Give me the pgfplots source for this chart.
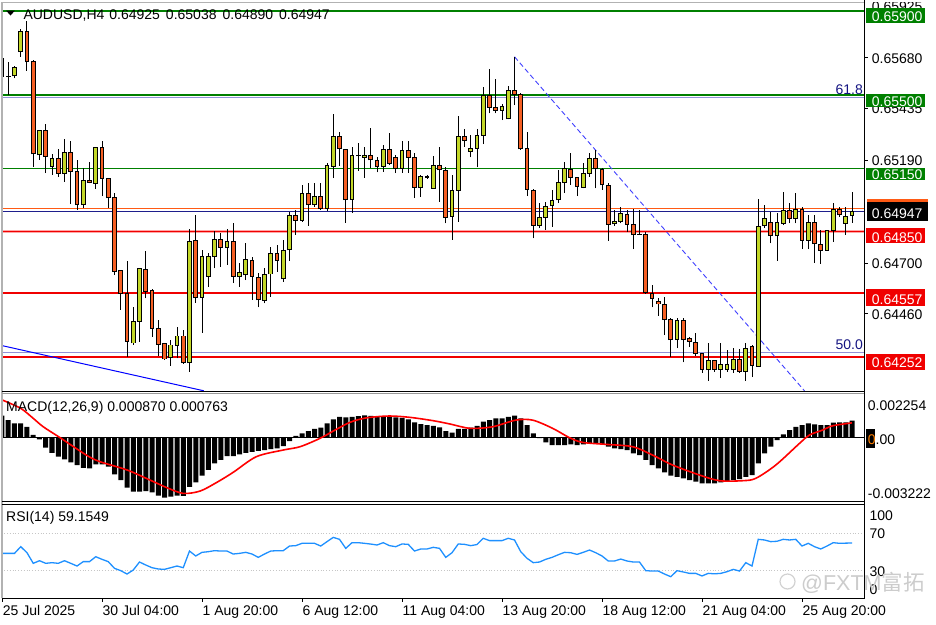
\documentclass[border=0pt]{standalone}
\usepackage{pgfplots}
\pgfplotsset{compat=1.18}
\usepackage{pgfplotstable}
\usepackage{fontspec}
\setmainfont{Liberation Sans}
\newfontfamily\cjk{Noto Sans CJK SC}
\definecolor{bull}{RGB}{195,215,40}
\definecolor{bear}{RGB}{245,95,35}
\definecolor{lvlgreen}{RGB}{0,128,0}
\definecolor{lvlred}{RGB}{240,0,0}
\definecolor{fib}{RGB}{145,145,215}
\definecolor{navyl}{RGB}{30,30,140}
\definecolor{orl}{RGB}{255,90,20}
\definecolor{rsiblue}{RGB}{30,144,255}
\definecolor{fibtxt}{RGB}{20,20,130}
\newcommand\lbl{\fontsize{14}{16}\selectfont}

\pgfplotstableread{
i o h l c
0 0.65674 0.65679 0.65555 0.65587
1 0.65591 0.65658 0.65500 0.65590
2 0.65590 0.65638 0.65579 0.65631
3 0.65706 0.65812 0.65682 0.65801
4 0.65801 0.65853 0.65615 0.65658
5 0.65658 0.65666 0.65158 0.65218
6 0.65214 0.65335 0.65190 0.65333
7 0.65333 0.65361 0.65127 0.65206
8 0.65158 0.65218 0.65119 0.65198
9 0.65199 0.65242 0.65110 0.65127
10 0.65127 0.65290 0.65087 0.65228
11 0.65228 0.65280 0.64980 0.65134
12 0.65134 0.65190 0.64952 0.64976
13 0.64976 0.65152 0.64961 0.65095
14 0.65095 0.65182 0.65079 0.65082
15 0.65079 0.65253 0.65052 0.65249
16 0.65249 0.65280 0.65018 0.65103
17 0.65103 0.65104 0.64961 0.65009
18 0.65014 0.65033 0.64642 0.64658
19 0.64663 0.64666 0.64476 0.64555
20 0.64555 0.64709 0.64253 0.64325
21 0.64317 0.64491 0.64309 0.64420
22 0.64420 0.64675 0.64325 0.64674
23 0.64669 0.64757 0.64531 0.64563
24 0.64571 0.64576 0.64348 0.64388
25 0.64388 0.64428 0.64256 0.64312
26 0.64314 0.64315 0.64237 0.64241
27 0.64248 0.64333 0.64209 0.64309
28 0.64305 0.64393 0.64245 0.64352
29 0.64352 0.64380 0.64218 0.64222
30 0.64222 0.64860 0.64182 0.64804
31 0.64809 0.64928 0.64510 0.64536
32 0.64536 0.64761 0.64367 0.64729
33 0.64634 0.64747 0.64586 0.64729
34 0.64729 0.64853 0.64674 0.64814
35 0.64814 0.64844 0.64682 0.64774
36 0.64774 0.64860 0.64690 0.64804
37 0.64804 0.64888 0.64603 0.64634
38 0.64634 0.64698 0.64586 0.64656
39 0.64642 0.64793 0.64618 0.64718
40 0.64714 0.64729 0.64523 0.64634
41 0.64631 0.64650 0.64488 0.64523
42 0.64520 0.64674 0.64507 0.64646
43 0.64646 0.64777 0.64539 0.64746
44 0.64746 0.64785 0.64658 0.64710
45 0.64623 0.64809 0.64610 0.64761
46 0.64761 0.64944 0.64710 0.64928
47 0.64928 0.64952 0.64833 0.64901
48 0.64901 0.65071 0.64895 0.65031
49 0.65031 0.65080 0.64876 0.64976
50 0.64976 0.65082 0.64966 0.65018
51 0.65015 0.65080 0.64952 0.64960
52 0.64960 0.65176 0.64948 0.65163
53 0.65158 0.65408 0.65103 0.65304
54 0.65304 0.65322 0.65163 0.65242
55 0.65242 0.65243 0.64890 0.65000
56 0.65003 0.65252 0.64939 0.65214
57 0.65209 0.65270 0.65138 0.65210
58 0.65203 0.65253 0.65106 0.65214
59 0.65214 0.65344 0.65153 0.65190
60 0.65190 0.65206 0.65131 0.65158
61 0.65158 0.65261 0.65134 0.65242
62 0.65242 0.65317 0.65166 0.65174
63 0.65203 0.65214 0.65127 0.65150
64 0.65150 0.65280 0.65129 0.65234
65 0.65234 0.65282 0.65129 0.65203
66 0.65201 0.65222 0.65008 0.65060
67 0.65060 0.65119 0.65015 0.65114
68 0.65110 0.65119 0.65100 0.65108
69 0.65055 0.65209 0.65055 0.65166
70 0.65166 0.65250 0.64991 0.65142
71 0.65142 0.65155 0.64888 0.64917
72 0.64920 0.65119 0.64809 0.65047
73 0.65044 0.65400 0.64896 0.65304
74 0.65304 0.65336 0.65253 0.65282
75 0.65231 0.65309 0.65203 0.65247
76 0.65246 0.65336 0.65155 0.65308
77 0.65308 0.65539 0.65266 0.65496
78 0.65496 0.65622 0.65412 0.65441
79 0.65441 0.65574 0.65412 0.65427
80 0.65425 0.65457 0.65380 0.65446
81 0.65385 0.65542 0.65384 0.65523
82 0.65523 0.65682 0.65452 0.65503
83 0.65503 0.65511 0.65238 0.65242
84 0.65246 0.65325 0.65018 0.65050
85 0.65047 0.65050 0.64817 0.64876
86 0.64876 0.64984 0.64865 0.64917
87 0.64917 0.64991 0.64857 0.64971
88 0.64971 0.65047 0.64872 0.64999
89 0.64999 0.65142 0.64984 0.65084
90 0.65084 0.65182 0.65034 0.65150
91 0.65147 0.65222 0.65071 0.65108
92 0.65108 0.65109 0.65018 0.65063
93 0.65060 0.65174 0.65055 0.65127
94 0.65127 0.65222 0.65110 0.65198
95 0.65198 0.65238 0.65055 0.65147
96 0.65147 0.65150 0.65047 0.65071
97 0.65071 0.65079 0.64806 0.64884
98 0.64885 0.64952 0.64877 0.64896
99 0.64896 0.64967 0.64888 0.64936
100 0.64931 0.64952 0.64848 0.64884
101 0.64884 0.64955 0.64765 0.64833
102 0.64836 0.64952 0.64833 0.64835
103 0.64836 0.64848 0.64552 0.64558
104 0.64555 0.64595 0.64488 0.64528
105 0.64515 0.64531 0.64447 0.64503
106 0.64503 0.64539 0.64356 0.64428
107 0.64431 0.64436 0.64253 0.64333
108 0.64333 0.64436 0.64293 0.64428
109 0.64428 0.64436 0.64225 0.64333
110 0.64341 0.64348 0.64301 0.64325
111 0.64322 0.64365 0.64256 0.64269
112 0.64269 0.64270 0.64177 0.64193
113 0.64190 0.64317 0.64137 0.64237
114 0.64237 0.64238 0.64182 0.64193
115 0.64193 0.64317 0.64150 0.64218
116 0.64190 0.64285 0.64182 0.64218
117 0.64190 0.64293 0.64177 0.64241
118 0.64241 0.64288 0.64174 0.64182
119 0.64182 0.64317 0.64139 0.64293
120 0.64301 0.64309 0.64155 0.64209
121 0.64206 0.65003 0.64205 0.64876
122 0.64876 0.64976 0.64865 0.64912
123 0.64893 0.64944 0.64793 0.64829
124 0.64828 0.64939 0.64709 0.64893
125 0.64888 0.65039 0.64880 0.64948
126 0.64948 0.64987 0.64888 0.64912
127 0.64912 0.65031 0.64888 0.64955
128 0.64955 0.64967 0.64765 0.64806
129 0.64806 0.64928 0.64765 0.64893
130 0.64893 0.64928 0.64701 0.64790
131 0.64790 0.64857 0.64695 0.64758
132 0.64758 0.64857 0.64758 0.64853
133 0.64853 0.64984 0.64801 0.64955
134 0.64955 0.64967 0.64920 0.64928
135 0.64888 0.64967 0.64833 0.64923
136 0.64925 0.65038 0.64890 0.64947
}\candles

\pgfplotstableread{
i v
0 0.00113
1 0.00090
2 0.00073
3 0.00073
4 0.00056
5 0.00014
6 -0.00009
7 -0.00051
8 -0.00077
9 -0.00097
10 -0.00111
11 -0.00126
12 -0.00140
13 -0.00154
14 -0.00157
15 -0.00137
16 -0.00137
17 -0.00148
18 -0.00188
19 -0.00217
20 -0.00256
21 -0.00276
22 -0.00276
23 -0.00273
24 -0.00280
25 -0.00297
26 -0.00307
27 -0.00302
28 -0.00297
29 -0.00298
30 -0.00251
31 -0.00229
32 -0.00194
33 -0.00165
34 -0.00131
35 -0.00114
36 -0.00094
37 -0.00094
38 -0.00085
39 -0.00077
40 -0.00072
41 -0.00068
42 -0.00063
43 -0.00058
44 -0.00055
45 -0.00043
46 -0.00017
47 0.00010
48 0.00022
49 0.00034
50 0.00045
51 0.00051
52 0.00073
53 0.00094
54 0.00107
55 0.00104
56 0.00107
57 0.00111
58 0.00114
59 0.00112
60 0.00111
61 0.00111
62 0.00109
63 0.00104
64 0.00102
65 0.00094
66 0.00078
67 0.00070
68 0.00065
69 0.00060
70 0.00053
71 0.00034
72 0.00026
73 0.00045
74 0.00045
75 0.00051
76 0.00060
77 0.00082
78 0.00090
79 0.00099
80 0.00099
81 0.00107
82 0.00113
83 0.00099
84 0.00065
85 0.00022
86 -0.00002
87 -0.00024
88 -0.00038
89 -0.00038
90 -0.00038
91 -0.00034
92 -0.00038
93 -0.00034
94 -0.00029
95 -0.00029
96 -0.00034
97 -0.00046
98 -0.00055
99 -0.00058
100 -0.00063
101 -0.00080
102 -0.00089
103 -0.00114
104 -0.00140
105 -0.00157
106 -0.00178
107 -0.00194
108 -0.00200
109 -0.00208
110 -0.00217
111 -0.00225
112 -0.00234
113 -0.00234
114 -0.00234
115 -0.00229
116 -0.00225
117 -0.00217
118 -0.00212
119 -0.00200
120 -0.00191
121 -0.00131
122 -0.00080
123 -0.00046
124 -0.00012
125 0.00017
126 0.00039
127 0.00056
128 0.00065
129 0.00073
130 0.00068
131 0.00065
132 0.00065
133 0.00077
134 0.00078
135 0.00078
136 0.00087
}\macd

\pgfplotstableread{
i v
-0.1 0.00195
3 0.00150
5 0.00099
6.6 0.00056
9.3 0.00000
13.5 -0.00089
15.7 -0.00123
20 -0.00165
23.7 -0.00217
26.4 -0.00256
29 -0.00285
31.7 -0.00273
34.4 -0.00228
37 -0.00177
40.7 -0.00097
45 -0.00063
47.7 -0.00046
50.9 -0.00003
53 0.00034
55.7 0.00079
58.4 0.00102
62 0.00111
65.3 0.00104
69 0.00087
71.7 0.00070
74.9 0.00048
78.5 0.00056
82.2 0.00090
84.9 0.00090
88.1 0.00048
90.8 0.00000
92.9 -0.00024
96.6 -0.00034
100.9 -0.00046
104.1 -0.00089
107.3 -0.00140
111.6 -0.00191
114.8 -0.00220
118.5 -0.00220
120.6 -0.00208
123.8 -0.00140
127.6 -0.00029
129.2 0.00014
131.3 0.00039
132.9 0.00061
136 0.00076
}\signal

\pgfplotstableread{
i v
0 48.0
1 48.0
2 48.0
3 55.2
4 48.7
5 37.3
6 40.1
7 37.3
8 38.0
9 37.3
10 40.1
11 37.3
12 34.4
13 39.1
14 39.1
15 44.4
16 41.6
17 39.1
18 31.9
19 29.4
20 25.8
21 30.1
22 38.7
23 35.5
24 32.6
25 31.2
26 30.8
27 32.6
28 34.4
29 32.6
30 50.5
31 45.2
32 49.1
33 49.8
34 50.9
35 50.5
36 50.5
37 47.3
38 48.0
39 49.1
40 47.3
41 43.7
42 47.3
43 50.5
44 50.9
45 50.9
46 55.9
47 56.3
48 58.8
49 58.8
50 58.8
51 55.9
52 60.6
53 65.2
54 63.1
55 53.4
56 59.5
57 59.5
58 58.8
59 58.0
60 57.0
61 59.5
62 56.3
63 55.2
64 58.1
65 57.7
66 50.5
67 52.7
68 52.7
69 54.5
70 53.4
71 43.7
72 48.7
73 58.1
74 57.7
75 56.3
76 57.5
77 64.2
78 61.7
79 61.7
80 61.7
81 64.2
82 62.4
83 49.8
84 42.7
85 38.0
86 38.7
87 41.6
88 43.7
89 46.5
90 49.1
91 48.7
92 46.9
93 49.1
94 51.6
95 48.7
96 45.2
97 39.8
98 39.8
99 41.9
100 39.8
101 38.7
102 38.7
103 29.4
104 29.0
105 29.0
106 25.8
107 22.9
108 29.4
109 28.0
110 26.5
111 26.5
112 23.7
113 26.5
114 26.0
115 26.5
116 28.3
117 30.8
118 29.0
119 38.0
120 34.4
121 63.1
122 62.4
123 60.6
124 61.0
125 63.1
126 62.4
127 63.1
128 55.9
129 58.8
130 55.2
131 52.7
132 55.9
133 59.5
134 58.8
135 59.0
136 59.15
}\rsi

\pgfplotsset{chartpanel/.style={scale only axis, width=862.5pt, axis lines=none,
  xmin=-0.08, xmax=137.92},
  candlebar/.style={only marks, mark=*, mark size=0pt,
    mark options={draw=none, fill=none, draw opacity=0, fill opacity=0}}}

\newcommand\pricebox[6]{%
  \fill[#1] (866,-#2) rectangle (925,-#3);
  \node[anchor=base west,inner sep=0,text=#4] at (871.7,-#5) {\lbl #6};}

\begin{document}
\begin{tikzpicture}[x=1pt,y=1pt]
\useasboundingbox (0,0) rectangle (936,-624);
\fill[white] (0,0) rectangle (936,-624);

% ---------------- main price panel
\begin{axis}[chartpanel, at={(1.5pt,-391pt)}, anchor=south west, height=389pt,
  ymin=0.640891, ymax=0.659429]
\addplot[fib, line width=1.4pt] coordinates {(-1,0.65487) (140,0.65487)};
\addplot[fib, line width=1.4pt] coordinates {(-1,0.64272) (140,0.64272)};
\addplot[lvlgreen, line width=1.5pt] coordinates {(-1,0.65900) (140,0.65900)};
\addplot[lvlgreen, line width=1.5pt] coordinates {(-1,0.65500) (140,0.65500)};
\addplot[lvlgreen, line width=1.5pt] coordinates {(-1,0.65150) (140,0.65150)};
\addplot[red!35, line width=2.6pt] coordinates {(-1,0.64850) (140,0.64850)};
\addplot[red!35, line width=2.6pt] coordinates {(-1,0.64557) (140,0.64557)};
\addplot[red!35, line width=2.6pt] coordinates {(-1,0.64252) (140,0.64252)};
\addplot[lvlred, line width=1.4pt] coordinates {(-1,0.64850) (140,0.64850)};
\addplot[lvlred, line width=1.4pt] coordinates {(-1,0.64557) (140,0.64557)};
\addplot[lvlred, line width=1.4pt] coordinates {(-1,0.64252) (140,0.64252)};
\addplot[orl, line width=1pt] coordinates {(-1,0.64960) (140,0.64960)};
\addplot[navyl, line width=0.9pt] coordinates {(-1,0.64947) (140,0.64947)};
% trend lines
\addplot[blue, line width=1pt] coordinates {(-0.08,0.64306) (32.3,0.64090)};
\addplot[blue!75, line width=0.9pt, dash pattern=on 5pt off 3pt] coordinates {(82,0.65682) (128.4,0.64090)};
% wicks
\addplot[candlebar, error bars/.cd, y dir=plus, y explicit, error mark=none,
  error bar style={black, line width=1pt}]
  table[x=i, y=l, y error plus expr=\thisrow{h}-\thisrow{l}] {\candles};
% body outlines
\addplot[candlebar, error bars/.cd, y dir=plus, y explicit, error mark=none,
  error bar style={black, line width=4.6pt}]
  table[x=i, y expr={min(\thisrow{o},\thisrow{c})-0.000015},
        y error plus expr={abs(\thisrow{c}-\thisrow{o})+0.00003}] {\candles};
% bull fills
\addplot[candlebar, unbounded coords=discard, error bars/.cd, y dir=plus, y explicit, error mark=none,
  error bar style={bull, line width=2.8pt}]
  table[x=i, y expr={\thisrow{c}>\thisrow{o} ? \thisrow{o}+0.00003 : nan},
        y error plus expr={max(\thisrow{c}-\thisrow{o}-0.00006,0)}] {\candles};
% bear fills
\addplot[candlebar, unbounded coords=discard, error bars/.cd, y dir=plus, y explicit, error mark=none,
  error bar style={bear, line width=2.8pt}]
  table[x=i, y expr={\thisrow{c}<\thisrow{o} ? \thisrow{c}+0.00003 : nan},
        y error plus expr={max(\thisrow{o}-\thisrow{c}-0.00006,0)}] {\candles};
\end{axis}

% ---------------- MACD panel
\begin{axis}[chartpanel, at={(1.5pt,-501.5pt)}, anchor=south west, height=108pt,
  ymin=-0.003265, ymax=0.002262]
\addplot[black, line width=0.8pt] coordinates {(-1,0) (140,0)};
\addplot[ybar, bar width=5pt, bar shift=0pt, fill=black, draw=none] table[x=i,y=v] {\macd};
\addplot[red, line width=1.6pt, smooth] table[x=i,y=v] {\signal};
\end{axis}

% ---------------- RSI panel
\begin{axis}[chartpanel, at={(1.5pt,-598pt)}, anchor=south west, height=93pt,
  ymin=0, ymax=100]
\addplot[gray!45, dotted, line width=0.8pt] coordinates {(-1,70) (140,70)};
\addplot[gray!45, dotted, line width=0.8pt] coordinates {(-1,30) (140,30)};
\addplot[rsiblue, line width=1.3pt] table[x=i,y=v] {\rsi};
\end{axis}

% ---------------- frames
\draw[gray!60, line width=1pt] (1.5,-2) -- (864,-2);
\draw[gray!60, line width=1.2pt] (2,-2) -- (2,-598);
\draw[black, line width=1pt] (1.5,-391.5) -- (864,-391.5);
\draw[gray!80, line width=0.8pt] (1.5,-393.8) -- (864,-393.8);
\draw[black, line width=0.8pt] (1.5,-501.8) -- (864,-501.8);
\draw[black, line width=0.8pt] (1.5,-504.3) -- (864,-504.3);
\draw[black, line width=1pt] (1.5,-598) -- (864,-598);
\draw[black, line width=1pt] (864,0) -- (864,-598.5);

% right ticks
\foreach \yy in {57.3,108.6,160,263,313.3} {\draw[black] (864,-\yy) -- (868,-\yy);}
\foreach \xx in {2,102,202,302,402,502,602,702,802} {\draw[black] (\xx,-598) -- (\xx,-602);}

% header
\fill[black] (6,-10.5) -- (15,-10.5) -- (10.5,-15.5) -- cycle;
\node[anchor=base west,inner sep=0] at (23.3,-19.3) {\lbl AUDUSD,H4\hspace{5pt}0.64925\hspace{6pt}0.65038\hspace{6pt}0.64890\hspace{6pt}0.64947};
\node[anchor=base west,inner sep=0] at (6,-411) {\lbl MACD(12,26,9) 0.000870 0.000763};
\node[anchor=base west,inner sep=0] at (6,-521.5) {\lbl RSI(14) 59.1549};

% fib labels
\node[anchor=base east,inner sep=0,text=fibtxt] at (863,-94.3) {\lbl 61.8};
\node[anchor=base east,inner sep=0,text=fibtxt] at (863,-349.3) {\lbl 50.0};

% price scale labels
\begin{scope}
\clip (865,-2.5) rectangle (936,-30);
\node[anchor=base west,inner sep=0] at (871.7,-11.5) {\lbl 0.65925};
\end{scope}
\node[anchor=base west,inner sep=0] at (871.7,-63.3) {\lbl 0.65680};
\node[anchor=base west,inner sep=0] at (871.7,-113.3) {\lbl 0.65435};
\node[anchor=base west,inner sep=0] at (871.7,-165.7) {\lbl 0.65190};
\node[anchor=base west,inner sep=0] at (871.7,-268.3) {\lbl 0.64700};
\node[anchor=base west,inner sep=0] at (871.7,-319.3) {\lbl 0.64460};

% level label boxes
\pricebox{lvlgreen}{8.3}{22.7}{white}{21}{0.65900}
\pricebox{lvlgreen}{94}{107.3}{white}{106}{0.65500}
\pricebox{lvlgreen}{167.7}{180}{white}{179.3}{0.65150}
\fill[orl] (866.7,-199.3) rectangle (928.3,-205);
\fill[black] (866.7,-201.7) rectangle (928.3,-220.7);
\node[anchor=base west,inner sep=0,text=white] at (871.7,-218.3) {\lbl 0.64947};
\pricebox{lvlred}{227.7}{243.3}{white}{242.3}{0.64850}
\pricebox{lvlred}{289.3}{305.7}{white}{304}{0.64557}
\pricebox{lvlred}{354.3}{370}{white}{367.7}{0.64252}

% MACD scale
\node[anchor=base west,inner sep=0] at (867.7,-410) {\lbl 0.002254};
\fill[black] (865.5,-428.5) rectangle (875.3,-448.3);
\node[anchor=base west,inner sep=0] at (867.7,-444.3) {\lbl \textcolor{orange}{0}.00};
\node[anchor=base west,inner sep=0] at (867.7,-498.3) {\lbl -0.003222};

% RSI scale
\node[anchor=base west,inner sep=0] at (869.3,-520) {\lbl 100};
\node[anchor=base west,inner sep=0] at (869.3,-538.3) {\lbl 70};
\node[anchor=base west,inner sep=0] at (869.3,-576) {\lbl 30};
\node[anchor=base west,inner sep=0] at (869.3,-594) {\lbl 0};

% watermark
\draw[gray!35, line width=1.2pt] (787.5,-581.5) circle (7.5);
\node[anchor=base west,inner sep=0,text=gray!40] at (801,-590.5) {\fontsize{21.5}{24}\selectfont @FXTM{\cjk 富拓}};

% date labels
\node[anchor=base west,inner sep=0] at (2.7,-615.3) {\lbl 25 Jul 2025};
\node[anchor=base west,inner sep=0] at (102.5,-615.3) {\lbl 30 Jul 04:00};
\node[anchor=base west,inner sep=0] at (202.5,-615.3) {\lbl 1 Aug 20:00};
\node[anchor=base west,inner sep=0] at (302.5,-615.3) {\lbl 6 Aug 12:00};
\node[anchor=base west,inner sep=0] at (402.5,-615.3) {\lbl 11 Aug 04:00};
\node[anchor=base west,inner sep=0] at (502.5,-615.3) {\lbl 13 Aug 20:00};
\node[anchor=base west,inner sep=0] at (602.5,-615.3) {\lbl 18 Aug 12:00};
\node[anchor=base west,inner sep=0] at (702.5,-615.3) {\lbl 21 Aug 04:00};
\node[anchor=base west,inner sep=0] at (802.5,-615.3) {\lbl 25 Aug 20:00};
\end{tikzpicture}
\end{document}
